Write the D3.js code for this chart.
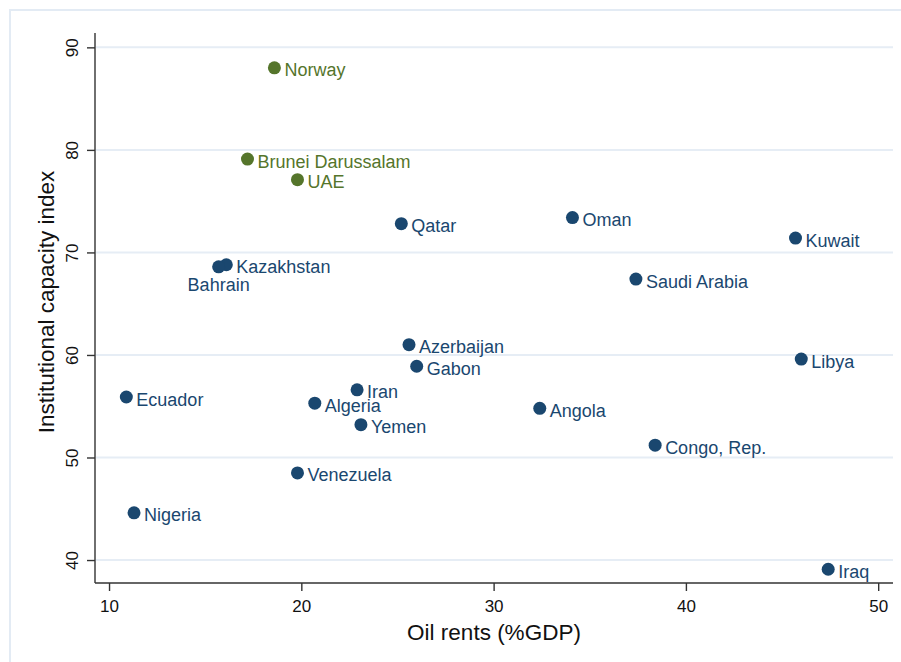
<!DOCTYPE html>
<html>
<head>
<meta charset="utf-8">
<script src="https://cdn.jsdelivr.net/npm/d3@7"></script>
<style>
  body { margin: 0; background: #fff; }
  svg text { font-family: "Liberation Sans", Arial, Helvetica, sans-serif; }
</style>
</head>
<body>
<svg id="chart" width="901" height="662"></svg>
<script>
// scatter of oil rents vs institutional capacity

const countries = ['Norway', 'Brunei Darussalam', 'UAE', 'Qatar', 'Oman', 'Kuwait',
    'Kazakhstan', 'Bahrain', 'Saudi Arabia', 'Azerbaijan', 'Gabon', 'Libya',
    'Ecuador', 'Iran', 'Algeria', 'Angola', 'Yemen', 'Congo, Rep.', 'Venezuela',
    'Nigeria', 'Iraq'];
const oilRents = [18.6, 17.2, 19.8, 25.2, 34.1, 45.7, 16.1, 15.7, 37.4, 25.6, 26.0, 46.0,
    10.9, 22.9, 20.7, 32.4, 23.1, 38.4, 19.8, 11.3, 47.4];
const capacity = [88.0, 79.1, 77.1, 72.8, 73.4, 71.4, 68.8, 68.6, 67.4, 61.0, 58.9, 59.6,
    55.9, 56.6, 55.3, 54.8, 53.2, 51.2, 48.5, 44.6, 39.1];
const highlighted = ['Norway', 'Brunei Darussalam', 'UAE'];
const labelBelow = ['Bahrain'];

const xTicks = [10, 20, 30, 40, 50];
const yTicks = [40, 50, 60, 70, 80, 90];

const navy = '#1a476f';
const green = '#55752b';
const gridColor = '#e6edf5';

const svg = d3.select('#chart');

// graph region border (light blue, only top and left show in the frame)
svg.append('rect')
    .attr('x', 10).attr('y', 10)
    .attr('width', 1000).attr('height', 1000)
    .attr('fill', 'none')
    .attr('stroke', '#e3ebf4')
    .attr('stroke-width', 2);

const x = d3.scaleLinear().domain([9.27, 50.77]).range([95, 893]);
const y = d3.scaleLinear().domain([37.76, 91.4]).range([583, 33]);

// horizontal grid
svg.append('g')
    .selectAll('line')
    .data(yTicks)
    .enter().append('line')
    .attr('x1', 96).attr('x2', 893)
    .attr('y1', d => y(d)).attr('y2', d => y(d))
    .attr('stroke', gridColor)
    .attr('stroke-width', 2);

// axes
let xAxis = svg.append('g')
    .attr('transform', 'translate(0,583)')
    .call(d3.axisBottom(x).tickValues(xTicks).tickSize(8).tickPadding(6).tickFormat(d3.format('d')));
let yAxis = svg.append('g')
    .attr('transform', 'translate(95,0)')
    .call(d3.axisLeft(y).tickValues(yTicks).tickSize(8).tickPadding(6).tickFormat(d3.format('d')));

[xAxis, yAxis].forEach(a => {
    a.select('.domain').attr('stroke', '#333').attr('stroke-width', 1.4);
    a.selectAll('.tick line').attr('stroke', '#333').attr('stroke-width', 1.4);
    a.selectAll('.tick text').attr('fill', '#111').attr('font-size', '17px');
});
xAxis.select('.domain').attr('d', 'M95,0H893');
yAxis.select('.domain').attr('d', 'M0,33V583');

// rotated y tick labels
yAxis.selectAll('.tick text')
    .attr('x', 0).attr('dy', 0)
    .attr('text-anchor', 'middle')
    .attr('transform', 'translate(-23,0) rotate(-90)')
    .attr('dominant-baseline', 'central');

xAxis.selectAll('.tick text').attr('dy', '0.9em');

// axis titles
svg.append('text')
    .attr('x', 494).attr('y', 640)
    .attr('text-anchor', 'middle')
    .attr('font-size', '22.5px')
    .attr('fill', '#111')
    .text('Oil rents (%GDP)');

svg.append('text')
    .attr('transform', 'translate(54,302) rotate(-90)')
    .attr('text-anchor', 'middle')
    .attr('font-size', '22.5px')
    .attr('fill', '#111')
    .text('Institutional capacity index');

// points and labels
const pts = countries.map((c, i) => ({ name: c, x: oilRents[i], y: capacity[i] }));

let g = svg.append('g');
g.selectAll('circle')
    .data(pts)
    .enter().append('circle')
    .attr('cx', d => x(d.x))
    .attr('cy', d => y(d.y))
    .attr('r', 6.5)
    .attr('fill', d => highlighted.includes(d.name) ? green : navy);

g.selectAll('text')
    .data(pts)
    .enter().append('text')
    .attr('x', d => labelBelow.includes(d.name) ? x(d.x) : x(d.x) + 10)
    .attr('y', d => labelBelow.includes(d.name) ? y(d.y) + 24 : y(d.y) + 8.5)
    .attr('text-anchor', d => labelBelow.includes(d.name) ? 'middle' : 'start')
    .attr('font-size', '18px')
    .attr('fill', d => highlighted.includes(d.name) ? green : navy)
    .text(d => d.name);
</script>
</body>
</html>
